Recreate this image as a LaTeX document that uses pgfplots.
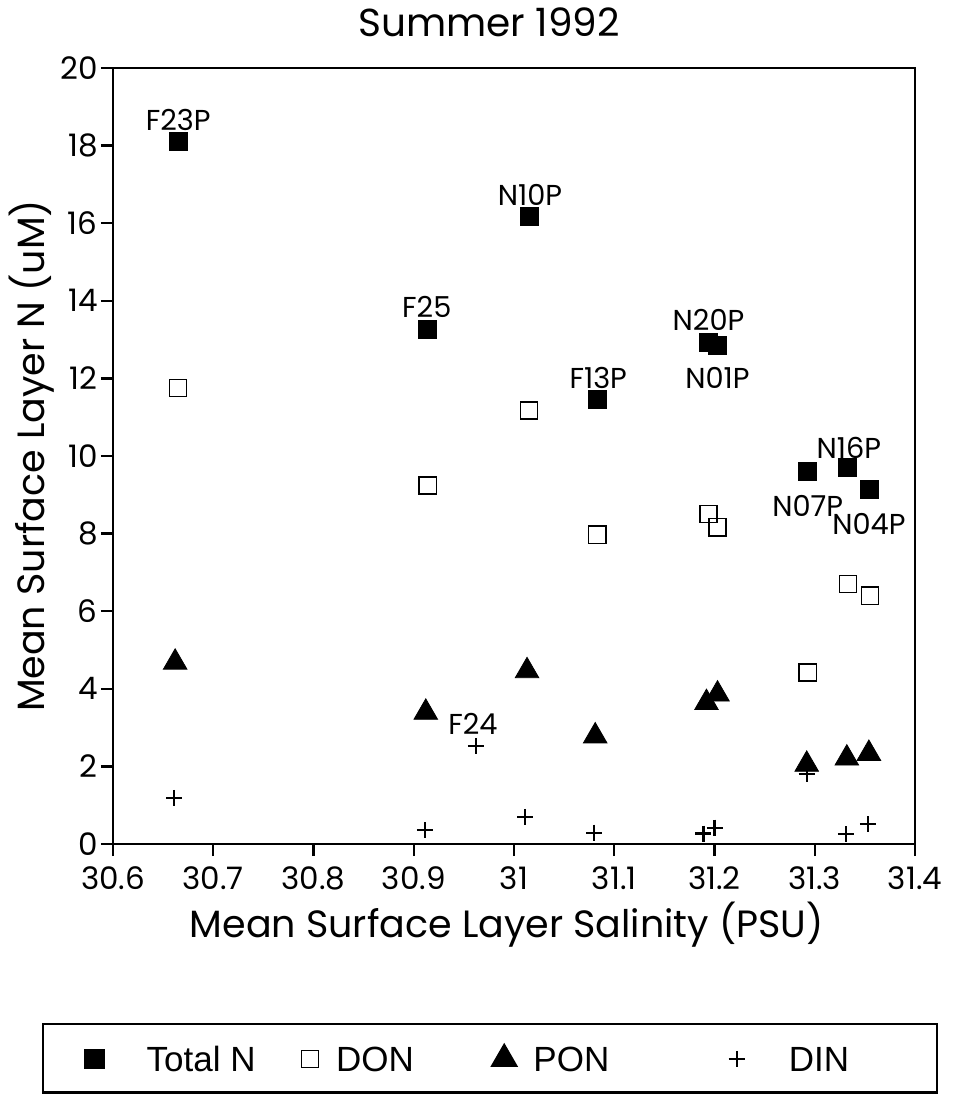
\documentclass[border=0pt]{standalone}
\usepackage{fontspec}
\setmainfont{Poppins}
\newfontfamily\legfont{Liberation Sans}
\usepackage{pgfplots}
\pgfplotsset{compat=1.18}
\newcommand{\lbl}{\fontsize{14.4}{16}\selectfont}
\begin{document}
\begin{tikzpicture}
\begin{axis}[
  scale only axis, width=401pt, height=388pt,
  xmin=30.6, xmax=31.4, ymin=0, ymax=20,
  xtick={30.6,30.7,30.8,30.9,31,31.1,31.2,31.3,31.4},
  xticklabels={30.6,30.7,30.8,30.9,31,31.1,31.2,31.3,31.4},
  ytick={0,2,4,6,8,10,12,14,16,18,20},
  tick align=outside, xtick pos=bottom, ytick pos=left,
  major tick length=6pt,
  axis line style={line width=1.3pt},
  every tick/.style={black, line width=1.2pt},
  /pgf/number format/assume math mode=true,
  tick label style={font=\fontsize{15.5}{18}\selectfont},
  xticklabel style={yshift=-2pt},
  yticklabel style={inner xsep=1.5pt},
  label style={font=\fontsize{19}{22}\selectfont},
  title={Summer 1992},
  title style={at={(0.469,1.043)}, anchor=center, font=\fontsize{19.5}{22}\selectfont},
  xlabel={Mean Surface Layer Salinity (PSU)},
  xlabel style={at={(0.491,-0.104)}, anchor=center},
  ylabel={Mean Surface Layer N (uM)},
  ylabel style={at={(-0.101,0.5)}, anchor=center},
  clip=false,
  legend columns=4,
  legend style={at={(-0.0885,-0.2307)}, anchor=north west, draw=black, line width=1.2pt,
    inner xsep=19pt, inner ysep=10.5pt, /tikz/column sep=0pt,
    nodes={inner sep=0pt, font=\legfont\fontsize{17.5}{20}\selectfont, text height=12.5pt, text depth=0pt}},
  legend image code/.code={\path (-6pt,0pt) (6pt,0pt); \draw[#1] plot coordinates {(0pt,0pt)};},
]
\addplot[only marks, mark=square*, mark size=4.5pt, black] coordinates {
(30.665,18.12) (30.914,13.26) (31.015,16.18) (31.083,11.45) (31.194,12.94)
(31.203,12.85) (31.293,9.61) (31.333,9.70) (31.355,9.14)};
\addlegendentry{\makebox[94.5pt][l]{\hspace{19.5pt}Total N}}
\addplot[only marks, mark=square, mark size=4.3pt, black, mark options={line width=0.7pt}] coordinates {
(30.665,11.75) (30.914,9.24) (31.015,11.17) (31.083,7.97) (31.194,8.51)
(31.203,8.16) (31.293,4.42) (31.333,6.70) (31.355,6.40)};
\addlegendentry{\makebox[84pt][l]{\hspace{6.5pt}DON}}
\addplot[only marks, mark=triangle*, mark size=6.8pt, black] coordinates {
(30.662,4.68) (30.912,3.39) (31.013,4.46) (31.081,2.78) (31.192,3.64)
(31.203,3.86) (31.292,2.05) (31.332,2.21) (31.354,2.33)};
\addlegendentry{\makebox[103pt][l]{\hspace{8pt}PON}}
\addplot[only marks, mark=+, mark size=4pt, black, mark options={line width=1.1pt}] coordinates {
(30.661,1.19) (30.911,0.36) (30.962,2.53) (31.011,0.70) (31.080,0.29)
(31.189,0.27) (31.200,0.42) (31.292,1.80) (31.331,0.25) (31.353,0.51)};
\addlegendentry{\makebox[74.5pt][l]{\hspace{19.5pt}DIN}}
\node[font=\lbl] at (axis cs:30.665,18.66) {F23P};
\node[font=\lbl] at (axis cs:31.016,16.72) {N10P};
\node[font=\lbl] at (axis cs:30.913,13.83) {F25};
\node[font=\lbl] at (axis cs:31.194,13.50) {N20P};
\node[font=\lbl] at (axis cs:31.203,12.00) {N01P};
\node[font=\lbl] at (axis cs:31.084,12.00) {F13P};
\node[font=\lbl] at (axis cs:31.334,10.22) {N16P};
\node[font=\lbl] at (axis cs:31.293,8.72) {N07P};
\node[font=\lbl] at (axis cs:31.354,8.26) {N04P};
\node[font=\lbl] at (axis cs:30.959,3.10) {F24};
\end{axis}
\pgfresetboundingbox
\path[use as bounding box] (-56.5pt,-125.5pt) rectangle (420pt,422pt);
\end{tikzpicture}
\end{document}
